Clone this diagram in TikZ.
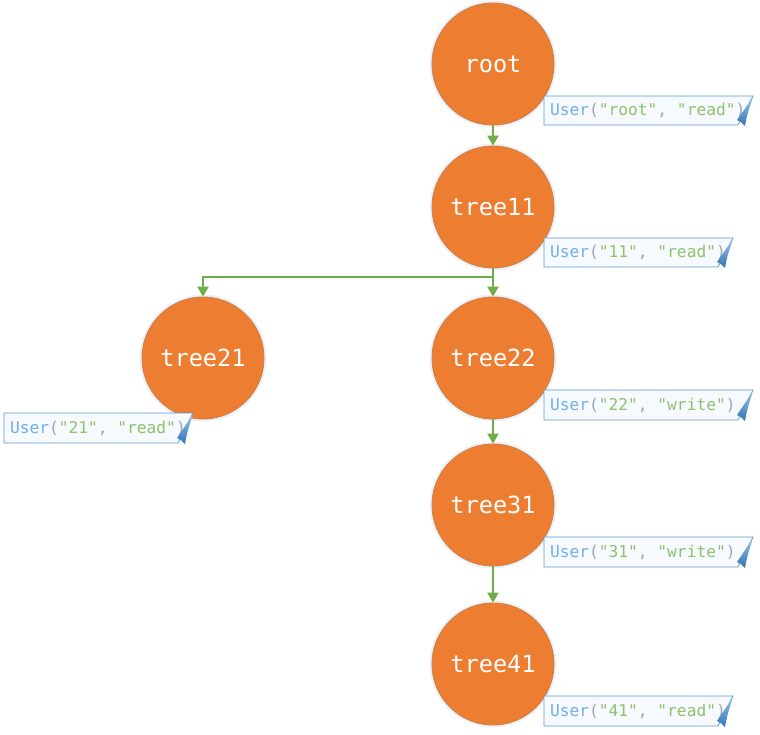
\documentclass[tikz,border=0pt]{standalone}
\usepackage{fontspec}
\newfontfamily\mono{DejaVu Sans Mono}
\usetikzlibrary{arrows.meta}
\definecolor{tnode}{HTML}{ED7D31}
\definecolor{edgec}{HTML}{70AD47}
\definecolor{ublue}{HTML}{6FB0EA}
\definecolor{sgreen}{HTML}{8FC26A}
\definecolor{pgray}{HTML}{9AA6B2}
\definecolor{nbord}{HTML}{5B9BD5}
\definecolor{nfill}{HTML}{F6F9FD}
\definecolor{flapdark}{HTML}{2E75B6}
\definecolor{halo}{HTML}{B8C8DC}
\tikzset{
  treenode/.style={circle, fill=tnode, draw=tnode!70!gray, line width=0.8pt,
    minimum size=122pt, inner sep=0pt, text=white,
    font=\mono\fontsize{23.6}{24}\selectfont},
  link/.style={draw=edgec, line width=2.4pt, -{Triangle[width=11pt,length=10pt]}},
  notetext/.style={anchor=west, inner sep=0pt, font=\mono\fontsize{16.2}{17}\selectfont},
  noteframe/.style={draw=nbord, line width=0.8pt, fill=nfill},
}
\newcommand\utxt[2]{{\color{ublue}User}{\color{pgray}(}{\color{sgreen}"#1"}{\color{pgray}, }{\color{sgreen}"#2"}{\color{pgray})}}
% name, x1, y1, x2, y2, text
\newcommand\usernote[6]{%
  \filldraw[noteframe] (#2,#3) -- (#4,#3) -- (#4-15,#5) -- (#2,#5) -- cycle;
  \node[notetext] (#1) at (#2+6,{(#3+#5)/2}) {#6};
  \shade[top color=nbord!60, bottom color=flapdark]
    (#4,#3+1) -- (#4-16,#5-5) .. controls (#4-12,#5-3) .. (#4-8,#5+1)
    .. controls (#4-6,#5-10) .. cycle;
}
\begin{document}
\begin{tikzpicture}[x=1pt,y=-1pt]
\useasboundingbox (0,0) rectangle (760,734);
% soft halos
\foreach \p in {(493,64),(493,207),(203,358),(493,358),(493,505),(493,664)}
  \fill[halo, opacity=0.25] \p circle (63.5);
\node[treenode] (root)   at (493,64)  {root};
\node[treenode] (tree11) at (493,207) {tree11};
\node[treenode] (tree21) at (203,358) {tree21};
\node[treenode] (tree22) at (493,358) {tree22};
\node[treenode] (tree31) at (493,505) {tree31};
\node[treenode] (tree41) at (493,664) {tree41};
\coordinate (split) at (493,277);
\draw[link] (root) -- (tree11);
\draw[link] (tree11.south) -- (split) -| (tree21.north);
\draw[link] (tree11) -- (tree22);
\draw[link] (tree22) -- (tree31);
\draw[link] (tree31) -- (tree41);
\usernote{nroot}{544}{96}{753}{125}{\utxt{root}{read}}
\usernote{n11}{544}{238}{733}{267}{\utxt{11}{read}}
\usernote{n21}{4}{413}{193}{443}{\utxt{21}{read}}
\usernote{n22}{544}{390}{753}{420}{\utxt{22}{write}}
\usernote{n31}{544}{537}{753}{567}{\utxt{31}{write}}
\usernote{n41}{544}{696}{733}{726}{\utxt{41}{read}}
\end{tikzpicture}
\end{document}
